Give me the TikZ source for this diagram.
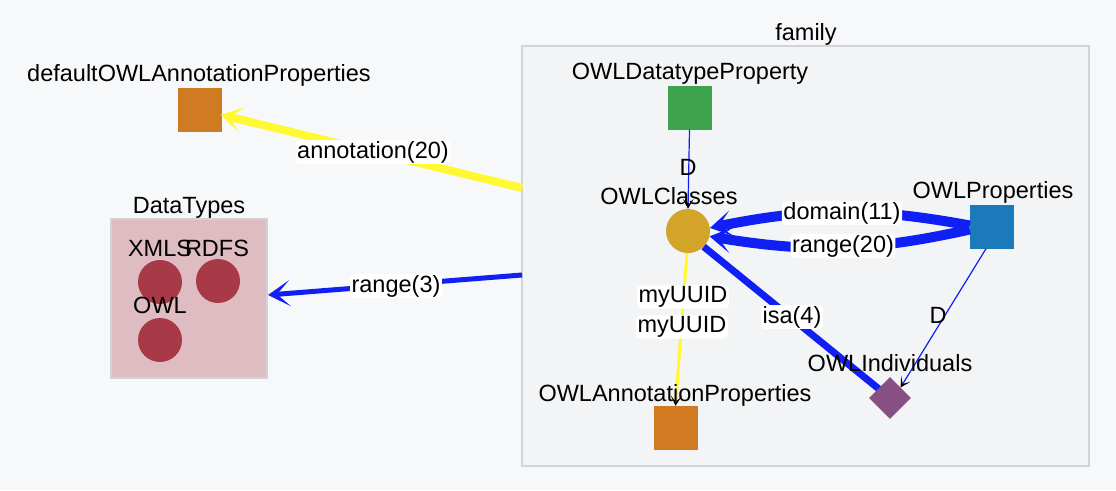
\documentclass[tikz,border=0pt]{standalone}
\usepackage{fontspec}
\setmainfont{Liberation Sans}
\usetikzlibrary{arrows.meta,shapes.geometric}
\definecolor{bg}{HTML}{F7F8FA}
\definecolor{famfill}{HTML}{F3F4F6}
\definecolor{boxline}{HTML}{D2D3D6}
\definecolor{dtfill}{HTML}{DFBCC1}
\definecolor{orangeN}{HTML}{D07A22}
\definecolor{greenN}{HTML}{3DA34D}
\definecolor{goldN}{HTML}{D2A428}
\definecolor{blueN}{HTML}{1A7ABA}
\definecolor{purpN}{HTML}{884F82}
\definecolor{redN}{HTML}{A83A48}
\definecolor{edgeblue}{HTML}{1020F5}
\definecolor{edgeyellow}{HTML}{FFF833}
\tikzset{
  lbl/.style={font=\fontsize{23.5}{27}\selectfont, inner sep=0pt, text=black},
  sq/.style={rectangle, minimum width=44pt, minimum height=44pt, inner sep=0pt},
  dot/.style={circle, minimum size=44pt, inner sep=0pt},
  bigtip/.style={-{Stealth[length=22pt,width=26pt,inset=13pt]}},
  smalltip/.style={-{Stealth[length=10pt,width=11pt,inset=6pt,black]}},
  elbl/.style={lbl, fill=white, inner xsep=1.5pt, inner ysep=1pt, rounded corners=4pt},
}
\begin{document}
\begin{tikzpicture}[x=1pt,y=-1pt]
\fill[bg] (0,0) rectangle (1116,490);
\useasboundingbox (0,0) rectangle (1116,490);
% clusters
\draw[boxline, fill=famfill, line width=1.2pt] (522,46) rectangle (1089,466);
\node[lbl] (famlbl) at (806,34) {family};
\draw[boxline, fill=dtfill, line width=1.2pt] (111,219) rectangle (267,378);
\node[lbl] (dtlbl) at (189,208) {DataTypes};
% nodes
\node[sq, fill=orangeN] (defann) at (199.5,110) {};
\node[lbl] at (199,75) {defaultOWLAnnotationProperties};
\node[dot, fill=redN] (xmls) at (160,282) {};
\node[dot, fill=redN] (rdfs) at (218,281) {};
\node[dot, fill=redN] (owl) at (160,340) {};
\node[lbl] at (160,248) {XMLS};
\node[lbl] at (217,248) {RDFS};
\node[lbl] at (160,305) {OWL};
\node[sq, fill=greenN] (dtp) at (689.5,107.5) {};
\node[lbl] at (690,74) {OWLDatatypeProperty};
\node[sq, fill=blueN] (props) at (992,226.5) {};
\node[lbl] at (993,192) {OWLProperties};
\node[sq, fill=orangeN] (annp) at (675.5,428) {};
\coordinate (indc) at (890,398);
\coordinate (famA) at (522,188);
\coordinate (famR) at (522,275);
\node[dot, fill=goldN] (cls) at (688,231) {};
% edges
\draw[edgeblue, line width=7pt] (cls.-45) -- (indc);
\node[diamond, fill=purpN, minimum width=42pt, minimum height=42pt, inner sep=0pt] (ind) at (indc) {};
\draw[edgeyellow, line width=8pt, bigtip, shorten >=-1pt] (famA) -- (defann.east |- 0,115);
\node[elbl] at (373,152) {annotation(20)};
\draw[edgeblue, line width=5pt, bigtip] (famR) -- (268,295);
\node[elbl] at (396,286) {range(3)};
\draw[edgeblue, line width=10pt, bigtip] (props.west) ++(0,-1) to[bend right=11] (cls.8);
\draw[edgeblue, line width=10pt, bigtip] (props.west) ++(0,3) to[bend left=11] (cls.-14);
\node[elbl] at (842,213) {domain(11)};
\node[elbl] at (843,246) {range(20)};
\node[elbl] at (792,317) {isa(4)};
\draw[edgeyellow, line width=3pt, smalltip] (cls.-93) -- (annp.north);
\node[elbl] at (683,297) {myUUID};
\node[elbl] at (682,327) {myUUID};
\draw[edgeblue, line width=1.2pt, smalltip] (dtp.south) -- (cls.north);
\node[lbl] at (688,167) {D};
\draw[edgeblue, line width=1.2pt, smalltip] (props.south) ++(-6,0) -- (ind.north east);
\node[lbl] at (938,315) {D};
% labels over
\node[lbl] at (669,196) {OWLClasses};
\node[lbl] at (890,363) {OWLIndividuals};
\node[lbl] at (675,395) {OWLAnnotationProperties};
\end{tikzpicture}
\end{document}
